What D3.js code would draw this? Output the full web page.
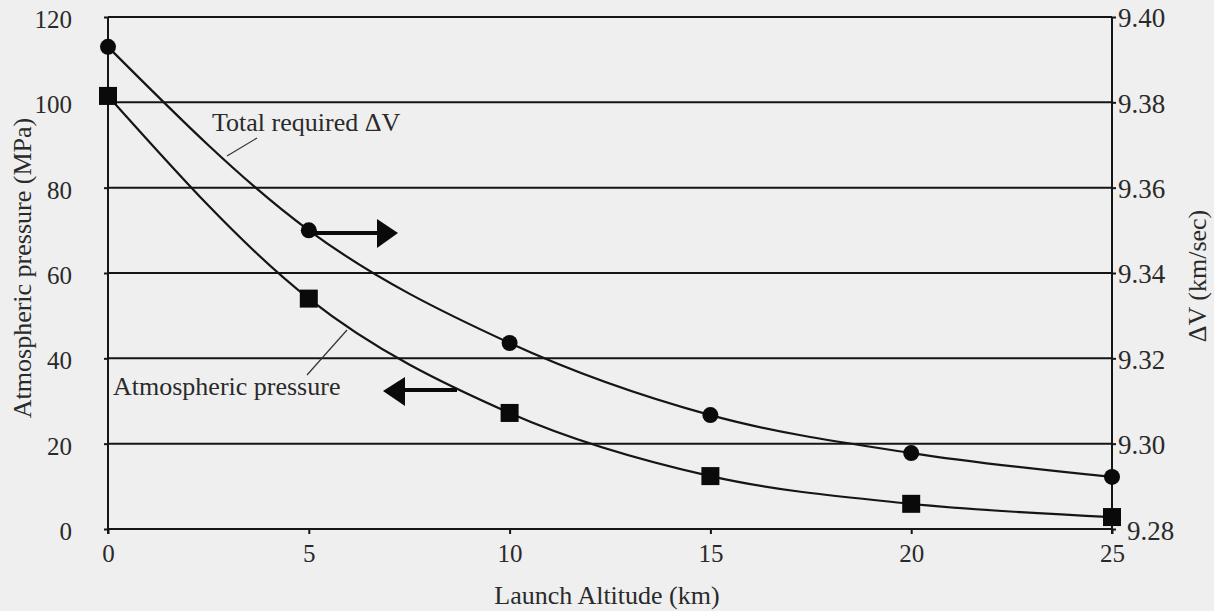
<!DOCTYPE html>
<html><head><meta charset="utf-8">
<script src="https://cdn.jsdelivr.net/npm/d3@7"></script>
<style>body{margin:0;background:#efefef;} svg{display:block;}</style>
</head><body><svg id="c" width="1214" height="611"></svg>
<script>
const altitudes = [0, 5, 10, 15, 20, 25];
const pressure = [101.5, 54, 27.2, 12.4, 5.9, 2.8];
const deltaV = [9.393, 9.350, 9.3236, 9.3067, 9.2978, 9.2922];
const xTicks = [0, 5, 10, 15, 20, 25];
const leftTicks = [0, 20, 40, 60, 80, 100, 120];
const rightTicks = [9.28, 9.30, 9.32, 9.34, 9.36, 9.38, 9.40];

const FONT = "'Liberation Serif', 'Times New Roman', Tinos, serif";
const svg = d3.select("#c");
const W = 1214, H = 611;
svg.append("rect").attr("width", W).attr("height", H).attr("fill", "#efefef");

const x = d3.scaleLinear().domain([0, 25]).range([108, 1112]);
const yL = d3.scaleLinear().domain([0, 120]).range([529, 17]);
const yR = d3.scaleLinear().domain([9.28, 9.40]).range([529, 17]);
const ink = "#151515";
const txt = "#2a2a2a";

function T(sel, size) {
  return sel.style("font-family", FONT).style("font-size", size + "px").attr("fill", txt);
}

// gridlines
svg.append("g").selectAll("line").data(leftTicks).join("line")
  .attr("x1", x(0)).attr("x2", x(25)).attr("y1", d => yL(d)).attr("y2", d => yL(d))
  .attr("stroke", ink).attr("stroke-width", 2);
// axes lines
svg.append("line").attr("x1", x(0)).attr("x2", x(0)).attr("y1", yL(0)+5).attr("y2", yL(120)).attr("stroke", ink).attr("stroke-width", 2);
svg.append("line").attr("x1", x(25)).attr("x2", x(25)).attr("y1", yL(0)+5).attr("y2", yL(120)).attr("stroke", ink).attr("stroke-width", 2);

function styleAxis(g, size) {
  g.select(".domain").remove();
  g.selectAll("line").attr("stroke", ink).attr("stroke-width", 2);
  T(g.selectAll("text"), size);
}

// left axis
const gl = svg.append("g").attr("transform", `translate(${x(0)},0)`)
  .call(d3.axisLeft(yL).tickValues(leftTicks).tickSize(4).tickPadding(32).tickFormat(d3.format("d")));
styleAxis(gl, 25);
gl.selectAll("text").attr("dy", "0.42em");

// right axis
const gr = svg.append("g").attr("transform", `translate(${x(25)},0)`)
  .call(d3.axisRight(yR).tickValues(rightTicks).tickSize(4).tickPadding(2).tickFormat(d3.format(".2f")));
styleAxis(gr, 27);
gr.selectAll("text").attr("dy", "0.36em");
gr.selectAll(".tick").filter(d => d === 9.28).select("text").attr("dx", 9).attr("dy", "0.4em");

// bottom axis
const gb = svg.append("g").attr("transform", `translate(0,${yL(0)})`)
  .call(d3.axisBottom(x).tickValues(xTicks).tickSize(5).tickPadding(10).tickFormat(d3.format("d")));
styleAxis(gb, 25);

// titles
T(svg.append("text"), 26).attr("transform", `translate(607,604)`).attr("text-anchor", "middle").text("Launch Altitude (km)");
T(svg.append("text"), 26).attr("transform", `translate(31,268) rotate(-90)`).attr("text-anchor", "middle").text("Atmospheric pressure (MPa)");
T(svg.append("text"), 26).attr("transform", `translate(1206,276) rotate(-90)`).attr("text-anchor", "middle").text("ΔV (km/sec)");

// curves
const line = (ys) => d3.line().x((d, i) => x(altitudes[i])).y(d => ys(d)).curve(d3.curveMonotoneX);
svg.append("path").datum(pressure).attr("d", line(yL)).attr("fill", "none").attr("stroke", ink).attr("stroke-width", 2.2);
svg.append("path").datum(deltaV).attr("d", line(yR)).attr("fill", "none").attr("stroke", ink).attr("stroke-width", 2.2);

// markers
svg.append("g").selectAll("rect").data(pressure).join("rect")
  .attr("x", (d, i) => x(altitudes[i]) - 9).attr("y", d => yL(d) - 9)
  .attr("width", 18).attr("height", 18).attr("fill", "#0a0a0a");
svg.append("g").selectAll("circle").data(deltaV).join("circle")
  .attr("cx", (d, i) => x(altitudes[i])).attr("cy", d => yR(d)).attr("r", 8).attr("fill", "#0a0a0a");

// annotations
T(svg.append("text"), 26).attr("x", 212).attr("y", 131).text("Total required ΔV");
svg.append("line").attr("x1", 257).attr("y1", 138).attr("x2", 227).attr("y2", 156).attr("stroke", "#333").attr("stroke-width", 1.2);
T(svg.append("text"), 26).attr("x", 113).attr("y", 395).text("Atmospheric pressure");
svg.append("line").attr("x1", 347).attr("y1", 330).attr("x2", 307).attr("y2", 375).attr("stroke", "#333").attr("stroke-width", 1.2);

// right arrow
svg.append("line").attr("x1", 314).attr("y1", 233).attr("x2", 380).attr("y2", 233).attr("stroke", "#0a0a0a").attr("stroke-width", 4);
svg.append("path").attr("d", "M377,219 L398,233 L377,248 Z").attr("fill", "#0a0a0a");
// left arrow
svg.append("line").attr("x1", 400).attr("y1", 390).attr("x2", 457).attr("y2", 390).attr("stroke", "#0a0a0a").attr("stroke-width", 4);
svg.append("path").attr("d", "M405,377 L383,391 L405,406 Z").attr("fill", "#0a0a0a");
</script></body></html>
